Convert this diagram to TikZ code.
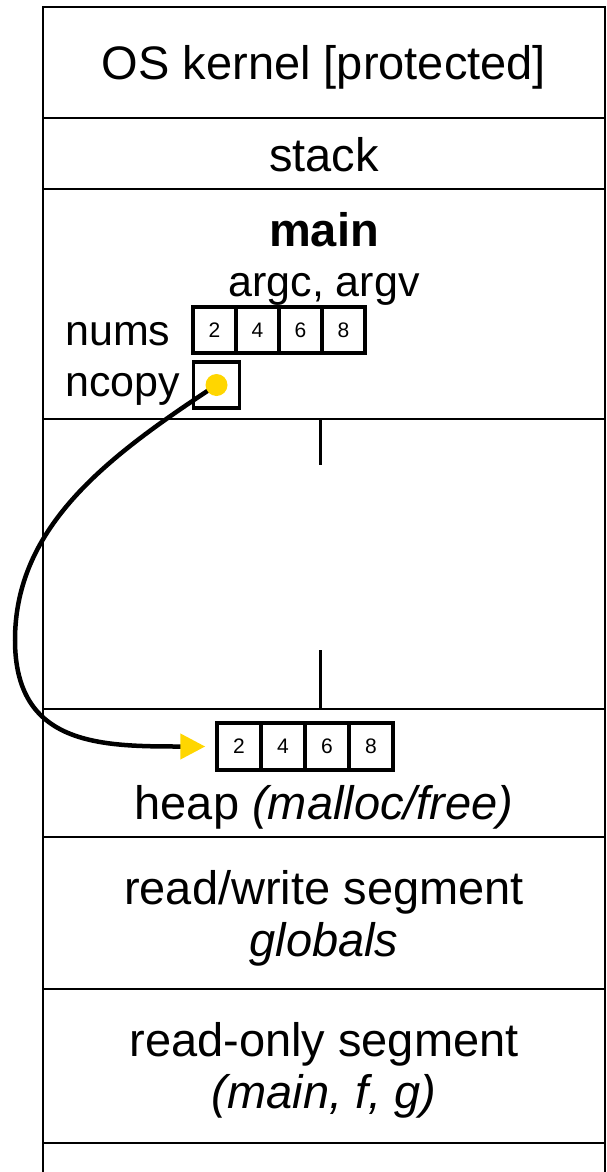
\documentclass[tikz,border=0pt]{standalone}
\usepackage{fontspec}
\setmainfont{Liberation Sans}
\usetikzlibrary{arrows.meta}
\definecolor{ptryellow}{RGB}{255,214,0}
\tikzset{
  frame/.style={line width=2pt},
  big/.style={font=\fontsize{47}{56}\selectfont, inner sep=0pt, anchor=base},
  var/.style={font=\fontsize{43}{50}\selectfont, inner sep=0pt, anchor=base west},
  cell/.style={draw, line width=3.5pt, minimum width=43pt, minimum height=46pt, inner sep=0pt, font=\fontsize{21}{25}\selectfont},
  hcell/.style={cell, minimum width=44pt, minimum height=47pt},
  bar/.style={line width=3pt},
  ptr/.style={line width=4.5pt, -{Triangle[length=25pt,width=25pt,color=ptryellow,fill=ptryellow]}},
  dot/.style={circle, fill=ptryellow, minimum size=22pt, inner sep=0pt}
}
\begin{document}
\begin{tikzpicture}[x=1pt,y=-1pt]
\useasboundingbox (0,0) rectangle (606,1172);
% frame
\draw[frame] (42.5,1172) -- (42.5,7) -- (604.5,7) -- (604.5,1172);
\foreach \yy in {118,189,419,709,837,989,1143} \draw[frame] (42.5,\yy) -- (604.5,\yy);
% section texts
\node[big] (kernel) at (324,80) {OS kernel [protected]};
\node[big] (stack) at (324,171) {stack};
\node[big] (main) at (324,246) {\bfseries main};
\node[big, font=\fontsize{43}{50}\selectfont] (args) at (324,296) {argc, argv};
\node[var] (nums) at (65,345) {nums};
\node[var] (ncopyl) at (65,396) {ncopy};
% stack array
\node[cell] (s1) at (214.5,330) {2};
\node[cell] (s2) at (257.5,330) {4};
\node[cell] (s3) at (300.5,330) {6};
\node[cell] (s4) at (343.5,330) {8};
\node[cell, minimum width=46pt] (ncopy) at (216.5,385) {};
% growth bars
\draw[bar] (320,419) -- (320,465);
\draw[bar] (320,650) -- (320,709);
% heap array
\node[hcell] (h1) at (239,746.5) {2};
\node[hcell] (h2) at (283,746.5) {4};
\node[hcell] (h3) at (327,746.5) {6};
\node[hcell] (h4) at (371,746.5) {8};
\coordinate (harrow) at ([xshift=-10pt]h1.west);
\node[big] (heap) at (324,819) {heap \textit{(malloc/free)}};
\node[big] (rw) at (324,904) {read/write segment};
\node[big] (glob) at (324,956) {\textit{globals}};
\node[big] (ro) at (324,1056) {read-only segment};
\node[big] (fns) at (324,1108) {\textit{(main, f, g)}};
% pointer
\draw[ptr] (ncopy.center) .. controls (110,455) and (15,525) .. (15,640)
  .. controls (15,745.5) and (100,746.5) .. (harrow);
\node[dot] (d) at (ncopy.center) {};
\end{tikzpicture}
\end{document}
